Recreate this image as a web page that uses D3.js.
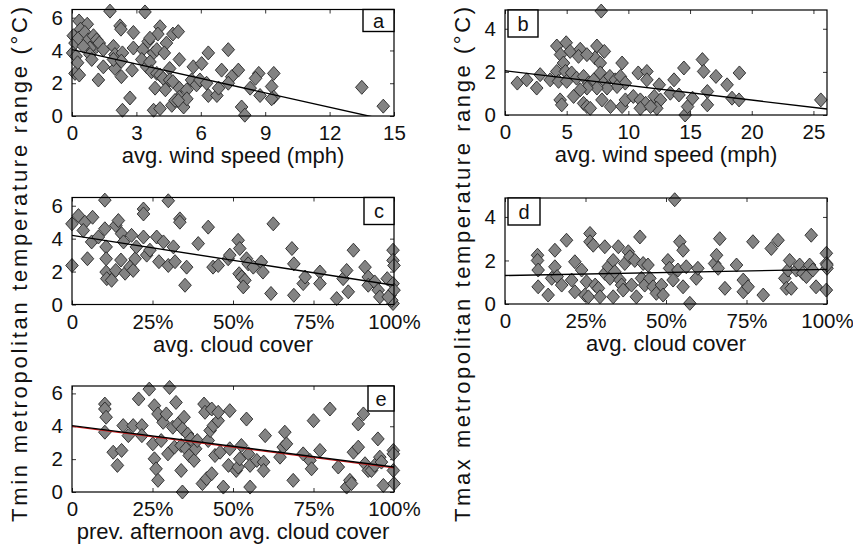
<!DOCTYPE html>
<html>
<head>
<meta charset="utf-8">
<script src="https://cdn.jsdelivr.net/npm/d3@7"></script>
<style>
  body { margin: 0; background: #fff; }
  svg { display: block; font-family: "Liberation Sans", Arial, sans-serif; }
</style>
</head>
<body>
<div class="chart-container"></div>
<script>
(function() {
  ////////////////////////////////////////////////////////////
  //// Data //////////////////////////////////////////////////
  ////////////////////////////////////////////////////////////
  // [avg. wind speed (mph), Tmin range (°C)]
  const windTmin = [
    [1.77,6.4],[3.4,6.35],[0.33,5.8],[0.71,5.6],[0.4,5.3],[2.24,5.5],[2.28,5.3],[2.86,5.1],[4.1,5.45],[4.0,5.0],[4.7,5.0],[4.95,5.15],
    [0.06,4.9],[0.14,4.45],[0.3,4.75],[0.6,5.1],[0.76,4.65],[1.0,4.9],[1.15,4.65],[1.15,4.25],[1.27,4.45],[0.84,4.15],[0.53,4.25],
    [1.46,4.05],[1.93,4.25],[2.0,3.75],[2.35,3.85],[2.86,4.15],[3.3,4.05],[3.55,4.55],[3.63,4.75],[3.8,3.85],[3.95,4.05],[4.4,4.45],
    [4.3,3.85],[6.35,3.85],[7.28,4.05],[0.03,3.85],[0.19,3.65],[0.26,3.25],[0.14,2.6],[0.34,2.5],[0.84,3.75],[0.92,3.45],[1.46,3.0],
    [2.0,2.9],[1.93,3.45],[2.3,3.35],[2.8,2.8],[3.25,3.45],[3.48,3.0],[3.63,3.3],[3.7,2.7],[3.95,2.6],[5.0,3.45],[4.55,2.9],[5.65,3.0],
    [6.04,3.2],[6.97,2.8],[7.75,2.8],[7.44,2.4],[8.7,2.6],[8.55,2.3],[9.4,2.6],[1.23,2.2],[2.3,2.4],[4.1,2.5],[4.25,2.3],[4.55,2.2],
    [3.87,1.7],[4.35,1.6],[4.7,2.1],[5.0,1.7],[5.0,1.15],[5.35,1.6],[5.57,2.2],[5.8,1.9],[5.96,2.2],[6.27,2.0],[6.35,1.25],[6.75,1.25],
    [6.83,1.7],[7.28,2.0],[8.3,1.7],[8.76,1.25],[9.3,1.8],[9.4,1.15],[13.5,1.75],[2.7,1.1],[2.35,0.35],[3.8,0.35],[4.1,0.45],[4.65,0.65],
    [4.8,0.95],[5.2,0.55],[5.35,1.05],[4.95,0.95],[7.9,0.55],[8.05,0.05],[14.5,0.6],[9.3,1.05]
  ];

  // [avg. wind speed (mph), Tmax range (°C)]
  const windTmax = [
    [7.8,4.82],[4.2,3.2],[4.96,3.35],[5.28,2.95],[6.1,3.05],[5.96,2.72],[7.45,3.2],[8.05,2.95],[7.3,2.65],[6.64,2.8],[4.5,2.8],
    [4.74,2.41],[7.72,2.41],[9.49,2.41],[14.5,2.18],[16.0,2.57],[16.1,2.02],[17.1,1.79],[19.0,1.95],[18.0,1.4],[13.7,1.63],
    [1.0,1.48],[1.76,1.63],[2.57,1.25],[2.85,1.87],[3.66,1.63],[4.2,2.02],[4.34,1.56],[4.9,2.02],[5.0,1.56],[5.4,1.95],[5.8,1.71],
    [6.37,1.79],[6.78,1.48],[7.2,1.63],[7.72,1.95],[8.1,1.56],[8.5,1.79],[8.94,1.63],[9.35,1.79],[9.75,1.48],[9.08,1.32],[8.27,1.25],
    [7.45,1.25],[6.64,1.25],[6.1,1.17],[5.56,0.86],[4.47,0.7],[4.6,0.47],[6.37,0.54],[6.64,0.39],[6.91,0.31],[7.86,0.7],[8.55,0.39],
    [9.49,0.39],[9.76,0.7],[10.4,0.86],[10.8,1.95],[11.5,2.02],[11.5,1.63],[10.97,0.7],[11.4,0.54],[10.97,0.31],[12.1,0.86],
    [12.5,1.4],[12.6,0.7],[12.3,0.31],[11.8,0.39],[13.4,1.01],[14.1,0.93],[14.6,0.0],[14.8,0.39],[15.2,0.78],[16.4,1.09],
    [16.4,0.47],[18.4,0.78],[18.97,0.7],[25.6,0.7]
  ];

  // [avg. cloud cover (%), Tmin range (°C)]
  const cloudTmin = [
    [0,2.37],[0,4.9],[2,5.4],[4,5.0],[3.5,4.5],[4.8,2.78],[6.4,5.3],[6.1,3.8],[8.2,4.1],[10.2,6.34],[10.2,4.6],[10.6,3.5],[10.6,2.78],
    [10.6,1.97],[10.8,1.57],[12.3,1.47],[13.6,2.07],[13.6,4.8],[14.4,5.1],[15.4,4.3],[16,3.8],[15.2,2.7],[16.5,1.9],[18.0,2.28],
    [18.5,4.2],[19,2.07],[19.6,2.78],[20,3.5],[22.2,5.8],[22.2,5.5],[22.2,4.1],[23.2,3.0],[24.2,3.3],[26.3,4.1],[27,2.6],[28.4,3.8],
    [29.9,6.3],[29.9,2.37],[31.5,3.5],[32,2.6],[33.5,5.2],[33.5,5.0],[35.6,2.27],[35.1,1.17],[39.2,3.7],[42.3,4.7],[43.8,2.27],
    [45.4,2.37],[48.5,2.78],[49,3.0],[51.6,3.9],[52.1,3.4],[51.9,1.87],[52.7,1.67],[53.7,1.47],[53.2,1.07],[54.2,2.78],[54.7,2.47],
    [56.3,2.27],[58.8,2.58],[59.3,1.97],[61.8,0.67],[62.5,4.9],[68.3,3.4],[68.9,2.47],[68.9,0.56],[71.8,1.27],[72.4,1.67],[77,1.97],
    [77,1.27],[82.2,0.36],[84.2,1.57],[85.3,2.07],[85.8,0.77],[87.4,3.3],[91,2.27],[92,1.67],[92,1.17],[94,1.37],[95.1,0.87],
    [95.6,0.46],[97.9,1.57],[98.8,0.56],[99.7,3.3],[99.7,2.68],[100,2.37],[99.7,1.27],[100,0.87],[99.7,0.06],[99.3,0.26],[98.2,0.46]
  ];

  // [avg. cloud cover (%), Tmax range (°C)]
  const cloudTmax = [
    [52.7,4.79],[10.1,2.24],[10.1,2.0],[10.3,1.56],[10.3,0.79],[13.4,0.41],[14.5,1.18],[15.5,2.47],[15.5,1.71],[16.2,1.26],[17.6,0.87],
    [19.1,2.93],[21.7,1.94],[20.7,1.1],[21.7,0.56],[23.8,1.56],[24.8,0.41],[25.3,1.02],[25.9,0.33],[26.4,3.24],[26.4,2.86],[27.4,2.7],
    [28,0.87],[29,0.72],[29.5,0.33],[31,2.63],[31,1.41],[32.1,1.71],[32.6,1.18],[33.6,2.0],[34.1,1.48],[33.6,0.33],[35.2,2.63],
    [35.7,1.1],[36.2,0.87],[36.7,0.64],[37.2,1.86],[38.3,2.4],[38.8,2.17],[39.3,0.87],[40.3,2.0],[40.8,0.33],[41.9,3.08],[42.4,1.18],
    [42.9,1.86],[43.4,0.87],[44.4,1.79],[45,1.18],[46,0.79],[47,0.49],[48.6,0.87],[49.1,0.41],[50.6,2.0],[51.1,1.64],[52.2,1.1],
    [53.7,1.56],[54.3,2.86],[55.3,2.47],[55.3,0.79],[56.3,1.71],[57.4,0.03],[59.4,1.18],[59.9,1.64],[65.1,1.86],[65.7,2.24],[66.2,1.64],
    [66.7,3.0],[68.3,0.72],[71.9,1.79],[74,1.1],[74,0.56],[75.5,0.79],[77,2.86],[80.2,0.41],[82.7,2.55],[84.8,2.93],[86.9,1.18],
    [87.4,0.72],[87.9,1.56],[88.4,2.0],[88.9,0.72],[90.5,1.56],[91.5,1.79],[92.5,1.41],[93.6,1.26],[94.6,1.79],[95.1,3.16],[95.6,1.56],
    [96.6,0.79],[99.8,2.33],[99.8,1.86],[100,1.64],[99.8,0.64],[100,1.79]
  ];

  // [prev. afternoon avg. cloud cover (%), Tmin range (°C)]
  const prevCloudTmin = [
    [10.2,5.35],[10.2,5.05],[10.6,4.55],[10.2,3.64],[12.8,2.42],[14.1,1.62],[15.4,2.53],[15.9,4.04],[17.5,3.43],[19.0,4.04],[20.7,5.66],
    [21.7,4.04],[21.7,3.43],[24.0,6.26],[25.6,5.25],[25.1,2.93],[25.6,2.02],[26.1,1.41],[26.7,0.71],[26.7,4.75],[27.7,3.13],[28.3,4.24],
    [29.3,4.75],[30.3,6.36],[29.8,2.32],[31.3,3.94],[31.8,2.73],[32.3,5.45],[32.9,4.14],[33.9,2.83],[33.9,1.31],[34.3,0.0],[34.8,4.55],
    [34.3,3.84],[35.4,2.63],[35.9,3.53],[36.4,2.22],[36.9,3.23],[37.9,1.92],[38.4,2.63],[38.9,3.13],[40.5,0.51],[41,5.35],[41.3,4.85],
    [41.8,0.81],[42.3,3.13],[42.9,3.74],[43.4,5.05],[43.4,1.11],[43.9,4.04],[44.4,2.22],[45.4,4.34],[45.4,4.85],[46,2.42],[47,0.3],
    [49,4.95],[49,2.63],[48.6,1.62],[51,1.31],[51.6,1.52],[52.1,2.02],[52.6,2.83],[54.2,4.44],[54.8,2.32],[55.3,0.3],[55.3,1.62],
    [57.4,1.92],[59.5,1.82],[59.5,1.31],[60,3.43],[64.6,2.12],[65.6,2.73],[66.1,3.64],[66.6,2.93],[68.7,0.71],[71.8,2.32],[73.9,1.92],
    [74.4,1.41],[75,4.34],[77,2.53],[80.1,5.05],[82.7,1.52],[85.3,0.3],[86.3,0.71],[86.8,0.51],[87.4,2.42],[88.9,2.73],[88.9,4.14],
    [90.5,4.75],[91,1.72],[92,1.31],[93,1.31],[94,1.62],[95,3.23],[95.6,2.12],[96.1,1.82],[96.7,0.4],[99.8,2.53],[99.8,2.32],
    [99.8,1.31],[100,0.51]
  ];

  // least-squares fits: [intercept, slope]
  const fitWindTmin = [4.05, -0.293];
  const fitWindTmax = [2.05, -0.068];
  const fitCloudTmin = [4.2, -0.0303];
  const fitCloudTmax = [1.31, 0.0028];
  const fitPrevCloudTmin = [4.04, -0.0252];

  const windTicksA = [0, 3, 6, 9, 12, 15];
  const windTicksB = [0, 5, 10, 15, 20, 25];
  const cloudTicks = [0, 25, 50, 75, 100];
  const tminTicks = [0, 2, 4, 6];
  const tmaxTicks = [0, 2, 4];

  ////////////////////////////////////////////////////////////
  //// Layout ////////////////////////////////////////////////
  ////////////////////////////////////////////////////////////
  const chartWidth = 853;
  const chartHeight = 548;
  const pct = d => (d === 0 ? "0" : d + "%");
  const num = d3.format("d");

  const panels = [
    { tag: "a", data: windTmin, fit: fitWindTmin, left: 72, top: 9.5, bottom: 116,
      xMax: 15, yMax: 6.5, xTicks: windTicksA, yTicks: tminTicks, fmt: num,
      title: "avg. wind speed (mph)", tagBox: { side: "right", w: 31, h: 22 } },
    { tag: "b", data: windTmax, fit: fitWindTmax, left: 505, top: 10, bottom: 115,
      xMax: 26.1, yMax: 4.87, xTicks: windTicksB, yTicks: tmaxTicks, fmt: num,
      title: "avg. wind speed (mph)", tagBox: { side: "left", w: 30, h: 27 } },
    { tag: "c", data: cloudTmin, fit: fitCloudTmin, left: 72, top: 197.5, bottom: 304.5,
      xMax: 100, yMax: 6.5, xTicks: cloudTicks, yTicks: tminTicks, fmt: pct,
      title: "avg. cloud cover", tagBox: { side: "right", w: 30, h: 27 } },
    { tag: "d", data: cloudTmax, fit: fitCloudTmax, left: 505, top: 198, bottom: 304,
      xMax: 100, yMax: 4.87, xTicks: cloudTicks, yTicks: tmaxTicks, fmt: pct,
      title: "avg. cloud cover", tagBox: { side: "left", w: 32, h: 27 } },
    { tag: "e", data: prevCloudTmin, fit: fitPrevCloudTmin, left: 72, top: 386, bottom: 492,
      xMax: 100, yMax: 6.45, xTicks: cloudTicks, yTicks: tminTicks, fmt: pct,
      title: "prev. afternoon avg. cloud cover", tagBox: { side: "right", w: 26, h: 25 } }
  ];
  const plotWidth = 322;
  const tickLen = 4;
  const titleGap = 47;

  const svg = d3
    .select(".chart-container")
    .append("svg")
    .attr("width", chartWidth)
    .attr("height", chartHeight)
    .attr("viewBox", [0, 0, chartWidth, chartHeight]);

  const defs = svg.append("defs");

  panels.forEach(p => {
    const h = p.bottom - p.top;
    const xScale = d3.scaleLinear().domain([0, p.xMax]).range([0, plotWidth]);
    const yScale = d3.scaleLinear().domain([0, p.yMax]).range([h, 0]);

    defs
      .append("clipPath")
      .attr("id", "clip-" + p.tag)
      .append("rect")
      .attr("width", plotWidth)
      .attr("height", h);

    const g = svg
      .append("g")
      .attr("transform", `translate(${p.left},${p.top})`);

    // axes with inward ticks on all four sides
    const styleAxis = sel => {
      sel.attr("font-family", null).attr("font-size", null);
      sel.select(".domain").remove();
      sel.selectAll(".tick line").attr("stroke", "#000").attr("stroke-width", 0.8);
      sel.selectAll(".tick text")
        .attr("fill", "#111")
        .style("font-size", "20.5px");
    };
    g.append("g")
      .attr("transform", `translate(0,${h})`)
      .call(d3.axisBottom(xScale).tickValues(p.xTicks).tickFormat(p.fmt)
        .tickSizeInner(-tickLen).tickSizeOuter(0).tickPadding(9.5))
      .call(styleAxis);
    g.append("g")
      .call(d3.axisTop(xScale).tickValues(p.xTicks).tickFormat("")
        .tickSizeInner(-tickLen).tickSizeOuter(0))
      .call(styleAxis);
    g.append("g")
      .call(d3.axisLeft(yScale).tickValues(p.yTicks).tickFormat(num)
        .tickSizeInner(-tickLen).tickSizeOuter(0).tickPadding(9))
      .call(styleAxis);
    g.append("g")
      .attr("transform", `translate(${plotWidth},0)`)
      .call(d3.axisRight(yScale).tickValues(p.yTicks).tickFormat("")
        .tickSizeInner(-tickLen).tickSizeOuter(0))
      .call(styleAxis);

    // scatter diamonds
    g.append("g")
      .selectAll("path")
      .data(p.data)
      .join("path")
      .attr("d", "M0,-7L6.3,0L0,7L-6.3,0Z")
      .attr("transform", d => `translate(${xScale(d[0])},${yScale(d[1])})`)
      .attr("fill", "#838383")
      .attr("stroke", "#262626")
      .attr("stroke-width", 0.9);

    // regression line
    const lineG = g.append("g").attr("clip-path", `url(#clip-${p.tag})`);
    const fy = x => p.fit[0] + p.fit[1] * x;
    if (p.tag === "e") {
      lineG.append("line")
        .attr("x1", xScale(0)).attr("x2", xScale(p.xMax))
        .attr("y1", yScale(fy(0)) + 0.8).attr("y2", yScale(fy(p.xMax)) + 0.8)
        .attr("stroke", "#d01c1c").attr("stroke-width", 1.3);
    }
    lineG.append("line")
      .attr("x1", xScale(0)).attr("x2", xScale(p.xMax))
      .attr("y1", yScale(fy(0))).attr("y2", yScale(fy(p.xMax)))
      .attr("stroke", "#000").attr("stroke-width", 1.4);

    // box
    g.append("rect")
      .attr("width", plotWidth)
      .attr("height", h)
      .attr("fill", "none")
      .attr("stroke", "#000")
      .attr("stroke-width", 1.2);

    // panel tag
    const tb = p.tagBox;
    const tx = tb.side === "right" ? plotWidth - tb.w : 3;
    g.append("rect")
      .attr("x", tx).attr("y", 0)
      .attr("width", tb.w).attr("height", tb.h)
      .attr("fill", "#fff").attr("stroke", "#000").attr("stroke-width", 1.4);
    g.append("text")
      .attr("x", tx + tb.w / 2).attr("y", tb.h / 2)
      .attr("dy", "0.35em")
      .attr("text-anchor", "middle")
      .style("font-size", "20px")
      .attr("fill", "#111")
      .text(p.tag);

    // x title
    svg.append("text")
      .attr("x", p.left + plotWidth / 2)
      .attr("y", p.bottom + titleGap)
      .attr("text-anchor", "middle")
      .style("font-size", "22px")
      .attr("fill", "#111")
      .text(p.title);
  });

  // y titles
  const yTitles = [
    { text: "Tmin metropolitan temperature range (°C)", x: 27, cy: 264.5 },
    { text: "Tmax metropolitan temperature range (°C)", x: 470, cy: 264.5 }
  ];
  yTitles.forEach(t => {
    svg.append("text")
      .attr("transform", `translate(${t.x},${t.cy}) rotate(-90)`)
      .attr("text-anchor", "middle")
      .attr("textLength", 515)
      .attr("lengthAdjust", "spacing")
      .style("font-size", "22px")
      .attr("fill", "#111")
      .text(t.text);
  });
})();
</script>
</body>
</html>
